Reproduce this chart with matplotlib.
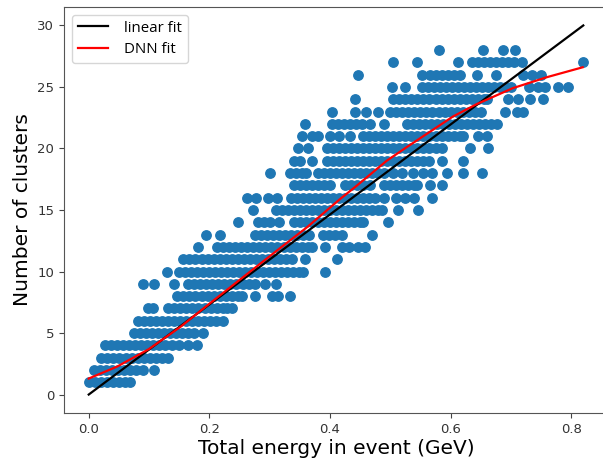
import matplotlib
matplotlib.use('Agg')

import matplotlib.pyplot as plt

# ---- event energies (GeV), grouped by number of clusters ----
n1 = [0.000, 0.010, 0.020, 0.030, 0.040, 0.050, 0.060, 0.068]
n2 = [0.008, 0.018, 0.028, 0.038, 0.048, 0.058, 0.068, 0.078, 0.090, 0.109]
n3 = [0.021, 0.031, 0.041, 0.051, 0.061, 0.071, 0.081, 0.091, 0.101, 0.111, 0.121, 0.132]
n4 = [0.027, 0.037, 0.047, 0.057, 0.067, 0.077, 0.087, 0.097, 0.107, 0.117, 0.127, 0.138,
      0.150, 0.164, 0.180]
n5 = [0.075, 0.085, 0.095, 0.105, 0.115, 0.125, 0.135, 0.145, 0.155, 0.165, 0.175, 0.190]
n6 = [0.081, 0.091, 0.101, 0.111, 0.121, 0.131, 0.141, 0.151, 0.161, 0.171, 0.181, 0.191,
      0.201, 0.211, 0.222]
n7 = [0.098, 0.106, 0.132, 0.142, 0.152, 0.162, 0.172, 0.182, 0.192, 0.202, 0.212, 0.222,
      0.230, 0.238]
n8 = [0.147, 0.157, 0.167, 0.177, 0.187, 0.197, 0.207, 0.217, 0.227, 0.237, 0.247, 0.254,
      0.276, 0.304, 0.314, 0.334]
n9 = [0.090, 0.108, 0.141, 0.165, 0.175, 0.185, 0.195, 0.205, 0.215, 0.225, 0.235, 0.245,
      0.255, 0.265, 0.276, 0.293, 0.310]
n10 = [0.130, 0.149, 0.159, 0.169, 0.179, 0.189, 0.199, 0.209, 0.219, 0.229, 0.239, 0.249,
       0.259, 0.269, 0.279, 0.289, 0.299, 0.309, 0.319, 0.329, 0.339, 0.349, 0.356, 0.392]
n11 = [0.157, 0.167, 0.177, 0.187, 0.197, 0.207, 0.217, 0.227, 0.237, 0.247, 0.257, 0.267,
       0.277, 0.287, 0.297, 0.307, 0.317, 0.327, 0.337, 0.359, 0.412]
n12 = [0.182, 0.213, 0.223, 0.233, 0.243, 0.253, 0.263, 0.273, 0.283, 0.293, 0.303, 0.313,
       0.323, 0.333, 0.343, 0.353, 0.363, 0.370, 0.392, 0.420, 0.432, 0.447, 0.458]
n13 = [0.194, 0.218, 0.276, 0.286, 0.296, 0.306, 0.316, 0.326, 0.336, 0.346, 0.356, 0.366,
       0.388, 0.398, 0.408, 0.420, 0.470]
n14 = [0.247, 0.280, 0.290, 0.300, 0.315, 0.340, 0.350, 0.360, 0.370, 0.380, 0.390, 0.400,
       0.410, 0.420, 0.430, 0.440, 0.450, 0.455, 0.497]
n15 = [0.273, 0.310, 0.320, 0.330, 0.340, 0.350, 0.360, 0.370, 0.380, 0.390, 0.400, 0.410,
       0.420, 0.430, 0.440, 0.450, 0.460, 0.470, 0.480, 0.486, 0.513, 0.546]
n16 = [0.263, 0.278, 0.298, 0.313, 0.335, 0.345, 0.355, 0.365, 0.375, 0.385, 0.395, 0.405,
       0.415, 0.425, 0.435, 0.445, 0.455, 0.465, 0.475, 0.490, 0.510, 0.525, 0.540, 0.570]
n17 = [0.340, 0.350, 0.360, 0.370, 0.380, 0.390, 0.400, 0.425, 0.435, 0.445, 0.455, 0.466,
       0.490, 0.500, 0.510, 0.520, 0.530, 0.540, 0.545, 0.566, 0.585]
n18 = [0.300, 0.334, 0.344, 0.354, 0.360, 0.380, 0.390, 0.400, 0.410, 0.420, 0.430, 0.440,
       0.450, 0.460, 0.470, 0.480, 0.490, 0.505, 0.520, 0.538, 0.555, 0.570, 0.594, 0.620,
       0.652]
n19 = [0.340, 0.350, 0.370, 0.395, 0.405, 0.415, 0.425, 0.435, 0.445, 0.455, 0.465, 0.475,
       0.485, 0.495, 0.505, 0.515, 0.525, 0.535, 0.545, 0.555, 0.565, 0.585, 0.620]
n20 = [0.347, 0.364, 0.395, 0.405, 0.415, 0.425, 0.435, 0.445, 0.455, 0.465, 0.475, 0.485,
       0.495, 0.505, 0.515, 0.525, 0.535, 0.545, 0.555, 0.565, 0.575, 0.585, 0.632, 0.662]
n21 = [0.354, 0.370, 0.380, 0.400, 0.415, 0.433, 0.455, 0.465, 0.475, 0.485, 0.495, 0.505,
       0.515, 0.525, 0.535, 0.545, 0.555, 0.565, 0.575, 0.585, 0.595, 0.605, 0.615, 0.620,
       0.645, 0.660]
n22 = [0.359, 0.403, 0.413, 0.423, 0.433, 0.443, 0.453, 0.467, 0.490, 0.527, 0.537, 0.547,
       0.557, 0.567, 0.577, 0.587, 0.597, 0.607, 0.617, 0.627, 0.637, 0.647, 0.657, 0.667,
       0.677]
n23 = [0.403, 0.442, 0.460, 0.480, 0.500, 0.510, 0.520, 0.530, 0.540, 0.550, 0.560, 0.570,
       0.580, 0.590, 0.600, 0.610, 0.620, 0.630, 0.640, 0.650, 0.690, 0.710, 0.720]
n24 = [0.442, 0.505, 0.515, 0.525, 0.535, 0.545, 0.555, 0.565, 0.575, 0.585, 0.595, 0.605,
       0.615, 0.625, 0.635, 0.645, 0.655, 0.660, 0.695, 0.711, 0.731, 0.753]
n25 = [0.503, 0.524, 0.552, 0.562, 0.572, 0.582, 0.592, 0.602, 0.612, 0.622, 0.632, 0.642,
       0.652, 0.662, 0.672, 0.682, 0.692, 0.700, 0.730, 0.745, 0.756, 0.778, 0.794]
n26 = [0.447, 0.552, 0.566, 0.576, 0.586, 0.596, 0.606, 0.615, 0.643, 0.676, 0.720, 0.735,
       0.750]
n27 = [0.505, 0.545, 0.612, 0.635, 0.645, 0.655, 0.665, 0.675, 0.685, 0.695, 0.705, 0.718,
       0.820]
n28 = [0.581, 0.654, 0.687, 0.706]

rows = [n1, n2, n3, n4, n5, n6, n7, n8, n9, n10, n11, n12, n13, n14,
        n15, n16, n17, n18, n19, n20, n21, n22, n23, n24, n25, n26, n27, n28]

# ---- fitted curves ----
linear_x = [0.0, 0.82]
linear_y = [0.0, 30.0]

dnn_x = [0.000, 0.047, 0.100, 0.152, 0.207, 0.273, 0.312, 0.362, 0.417, 0.445, 0.494,
         0.527, 0.604, 0.643, 0.703, 0.760, 0.819]
dnn_y = [1.30, 2.27, 3.70, 5.50, 7.65, 10.2, 11.7, 13.6, 15.9, 17.0, 19.0,
         20.1, 22.6, 23.6, 24.9, 25.8, 26.6]


def main():
    xs, ys = [], []
    for k, row in enumerate(rows, start=1):
        xs.extend(row)
        ys.extend([k] * len(row))

    fig = plt.figure(figsize=(6.03, 4.63), dpi=100)
    ax = fig.add_axes([64 / 603, 50 / 463, 544 / 603, 406 / 463])

    ax.scatter(xs, ys, s=46, color='#1f77b4', zorder=2)
    ax.plot(linear_x, linear_y, color='black', lw=1.6, label='linear fit', zorder=3)
    ax.plot(dnn_x, dnn_y, color='red', lw=1.6, label='DNN fit', zorder=4)

    ax.set_xlim(-0.041, 0.861)
    ax.set_ylim(-1.5, 31.5)
    ax.set_xticks([0.0, 0.2, 0.4, 0.6, 0.8])
    ax.set_yticks([0, 5, 10, 15, 20, 25, 30])
    ax.tick_params(labelsize=9.5, colors='#444444', labelcolor='#333333')
    for sp in ax.spines.values():
        sp.set_color('#555555')

    ax.set_xlabel('Total energy in event (GeV)', fontsize=14.5, labelpad=2)
    ax.set_ylabel('Number of clusters', fontsize=14.5, labelpad=4)

    ax.legend(loc='upper left', prop={'family': 'Open Sans', 'size': 10.8},
              handlelength=2.0, handletextpad=1.1, borderaxespad=0.5,
              labelspacing=0.45)

    fig.savefig('out.png', dpi=100)
    plt.close(fig)


if __name__ == "__main__":
    main()
